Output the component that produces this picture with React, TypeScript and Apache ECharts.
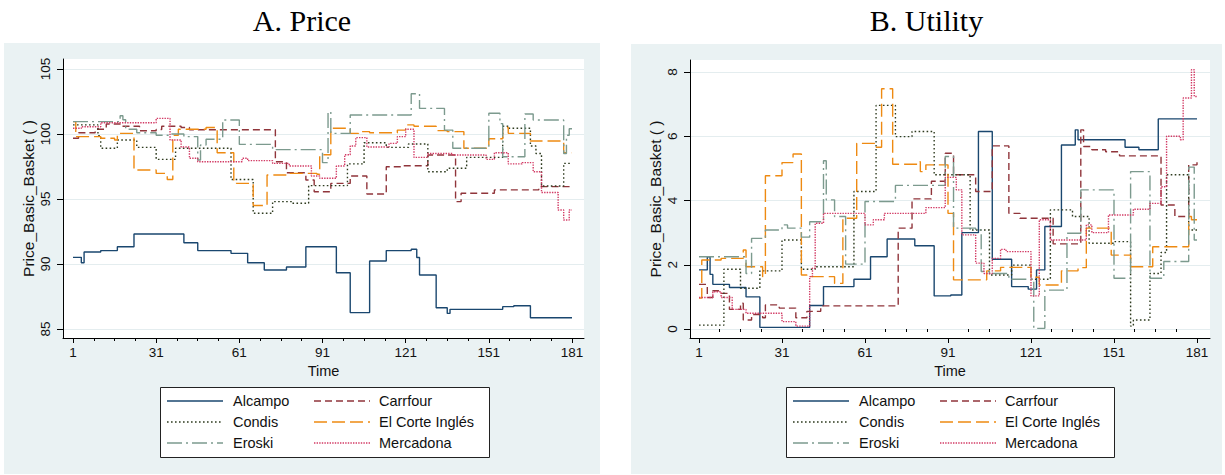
import { useEffect, useRef } from "react";
import * as echarts from "echarts";

// ---------- categories & ticks ----------
const stores = ["Alcampo", "Carrfour", "Condis", "El Corte Inglés", "Eroski", "Mercadona"];
const xTickValues = [1, 31, 61, 91, 121, 151, 181];
const xMinorTickValues = [8.5, 16, 23.5, 38.5, 46, 53.5, 68.5, 76, 83.5, 98.5, 106, 113.5, 128.5, 136, 143.5, 158.5, 166, 173.5];
const priceTicks = [85, 90, 95, 100, 105];
const utilityTicks = [0, 2, 4, 6, 8];

// ---------- A. Price : [day, value] at each change ----------
const priceAlcampo = [[1,90.51],[4,90.1],[5,90.92],[11,91.03],[17,91.33],[23,92.31],[41,91.64],[46,91.03],[58,90.82],[64,90.1],[70,89.54],[78,89.77],[85,91.33],[96,89.33],[101,86.26],[108,90.23],[114,91.03],[123,91.13],[125,90.5],[126,89.15],[132,86.64],[136,86.2],[137,86.51],[156,86.72],[160,86.79],[166,85.87],[181,85.87]];
const priceCarrfour = [[1,99.67],[3,100.1],[9,100.36],[13,100.77],[18,100.6],[25,100.25],[31,100.35],[33,100.6],[40,100.5],[43,100.33],[74,97.87],[78,97.02],[85,96.46],[88,95.56],[94,96.2],[101,96.77],[107,95.38],[114,97.48],[120,97.56],[129,98.38],[139,94.8],[141,95.44],[153,95.7],[169,95.95],[181,95.95]];
const priceCondis = [[1,100.7],[10,99.87],[11,98.9],[17,99.54],[24,98.97],[31,98.05],[38,98.9],[58,96.5],[66,93.9],[73,94.8],[80,94.67],[86,96.03],[100,97.7],[106,99.33],[114,98.97],[122,99.23],[129,97.1],[136,97.36],[143,98.2],[156,100.6],[158,100.44],[166,99.08],[168,98.5],[170,96.0],[178,97.74],[181,97.74]];
const priceElCorte = [[1,100.95],[2,99.8],[11,99.67],[16,99.54],[17,100.05],[23,97.23],[31,96.97],[35,96.5],[37,99.9],[39,100.36],[49,100.5],[53,98.56],[59,96.33],[60,96.2],[66,94.5],[71,96.85],[79,96.97],[89,96.9],[90,98.4],[94,100.44],[101,100.05],[104,100.18],[108,100.1],[118,100.3],[121,100.7],[124,100.6],[132,100.26],[136,100.18],[142,98.9],[151,99.64],[156,100.5],[158,100.05],[166,99.46],[178,98.56],[181,98.56]];
const priceEroski = [[1,100.95],[18,101.4],[19,101.1],[20,100.36],[24,100.1],[31,99.9],[36,100.0],[41,99.8],[46,98.0],[47,99.15],[49,99.6],[55,101.08],[61,99.2],[73,98.8],[91,97.8],[93,101.7],[94,100.05],[101,101.46],[123,103.1],[126,101.97],[135,100.3],[138,98.9],[151,101.6],[155,100.8],[156,98.25],[164,101.54],[167,101.08],[178,98.5],[179,99.9],[180,100.4],[181,100.4]];
const priceMercadona = [[1,100.44],[4,100.56],[11,100.87],[31,101.2],[36,99.54],[40,99.0],[43,98.13],[46,97.87],[62,98.13],[64,97.95],[73,97.74],[79,97.54],[87,96.77],[90,96.6],[96,97.54],[99,98.4],[101,99.08],[103,99.72],[107,99.0],[115,99.28],[118,99.8],[121,100.36],[124,98.2],[129,98.5],[138,98.38],[150,98.05],[153,98.56],[158,97.7],[163,97.8],[167,97.1],[170,95.5],[176,94.15],[178,93.38],[180,94.15],[181,94.15]];

// ---------- B. Utility ----------
const utilAlcampo = [[1,1.84],[4,2.25],[5,1.7],[6,1.39],[12,1.29],[18,1.0],[23,0.05],[41,0.73],[46,1.32],[57,1.55],[63,2.25],[69,2.8],[79,2.59],[86,1.03],[92,1.06],[96,3.0],[102,6.15],[107,2.17],[114,1.32],[120,1.24],[123,1.84],[126,3.19],[132,5.73],[137,6.2],[138,5.89],[155,5.66],[160,5.58],[167,6.54],[181,6.54]];
const utilCarrfour = [[1,1.39],[4,0.98],[6,1.19],[9,1.11],[12,0.61],[16,0.8],[17,0.28],[20,0.45],[24,0.35],[25,0.75],[30,0.65],[36,0.35],[40,0.55],[45,0.72],[73,3.14],[78,4.05],[85,4.6],[90,5.47],[93,4.8],[101,4.28],[107,5.7],[113,3.6],[117,3.45],[129,2.65],[139,6.2],[140,5.68],[143,5.58],[148,5.52],[153,5.39],[168,3.86],[173,3.5],[178,5.11],[181,5.21]];
const utilCondis = [[1,0.12],[10,1.86],[16,1.27],[23,1.81],[31,2.77],[38,1.86],[43,1.94],[57,4.28],[65,6.96],[72,5.99],[78,6.15],[86,4.8],[99,3.08],[106,1.68],[114,1.99],[121,1.55],[128,3.71],[136,3.5],[142,2.67],[151,2.72],[157,0.09],[158,0.28],[164,1.73],[168,2.38],[170,4.8],[178,3.08],[181,3.08]];
const utilElCorte = [[1,0.96],[2,2.15],[9,2.2],[17,2.46],[18,1.94],[24,1.63],[25,4.77],[31,5.18],[35,5.45],[38,1.68],[40,1.63],[50,1.42],[53,3.45],[58,5.78],[65,5.66],[67,7.48],[71,5.13],[80,5.21],[81,4.9],[83,5.11],[91,3.6],[93,1.53],[105,1.81],[110,1.92],[121,1.61],[124,1.37],[132,1.81],[138,1.91],[141,3.14],[150,2.3],[157,1.94],[165,2.56],[178,3.5],[179,3.4],[181,3.4]];
const utilEroski = [[1,2.25],[18,1.73],[20,2.82],[25,3.08],[31,3.24],[33,3.14],[38,2.86],[41,3.34],[46,5.24],[47,4.02],[50,3.5],[54,2.02],[61,3.97],[72,4.47],[90,5.37],[93,3.14],[101,3.08],[103,1.79],[106,1.73],[113,1.55],[122,0.02],[126,1.21],[134,2.98],[139,4.33],[151,1.58],[157,4.9],[164,1.58],[169,2.1],[178,5.04],[180,2.77],[181,2.77]];
const utilMercadona = [[1,0.98],[6,1.16],[9,0.98],[13,0.61],[18,0.49],[31,0.23],[36,0.09],[41,1.63],[42,1.89],[43,3.29],[46,3.6],[61,3.24],[64,3.4],[68,3.6],[83,3.78],[90,4.72],[94,4.33],[96,2.93],[101,2.05],[104,1.73],[107,2.2],[110,2.48],[112,2.41],[121,1.03],[124,3.4],[128,2.77],[141,3.24],[143,3.0],[149,3.55],[158,3.73],[164,3.91],[168,4.43],[170,6.0],[175,5.89],[176,7.19],[179,8.07],[180,7.24],[181,7.24]];

const priceSeries = [priceAlcampo, priceCarrfour, priceCondis, priceElCorte, priceEroski, priceMercadona];
const utilSeries = [utilAlcampo, utilCarrfour, utilCondis, utilElCorte, utilEroski, utilMercadona];

// ---------- styles ----------
const lineStyles: any[] = [
  { color: "#1a476f", type: "solid" },
  { color: "#90353b", type: [7, 4] },
  { color: "#2e3b1f", type: [1.6, 2.4] },
  { color: "#ee8a12", type: [13, 5] },
  { color: "#7c9a8e", type: [15, 4, 2, 4] },
  { color: "#d23a64", type: [1.4, 1.2] },
];

const FONT = '"Liberation Sans", Arial, Helvetica, sans-serif';
const SERIF = '"Liberation Serif", "Times New Roman", serif';
const PANEL_BG = "#eaf2f3";
const GRID_LINE = "#e4edef";

const panels = [
  { title: "A. Price", bg: [4, 43, 596, 431], plot: [63, 59, 521, 279], xMin: -2.607, xMax: 185.33, yMin: 84.308, yMax: 105.769, yTicks: priceTicks, data: priceSeries, legend: [160, 387, 329, 70], dx: 0 },
  { title: "B. Utility", bg: [631, 44, 591, 430], plot: [690, 60, 520, 278], xMin: -2.253, xMax: 185.7, yMin: -0.28, yMax: 8.374, yTicks: utilityTicks, data: utilSeries, legend: [786, 387, 328, 70], dx: 626 },
];

export default function App() {
  const ref = useRef<HTMLDivElement>(null);
  useEffect(() => {
    const chart = echarts.init(ref.current!, null, { renderer: "svg" });
    const grid: any[] = [];
    const xAxis: any[] = [];
    const yAxis: any[] = [];
    const series: any[] = [];
    const graphic: any[] = [];

    panels.forEach((p, pi) => {
      const [pl, pt, pw, ph] = p.plot;
      grid.push({ left: pl, top: pt, width: pw, height: ph, containLabel: false });
      xAxis.push({
        type: "value", gridIndex: pi, min: p.xMin, max: p.xMax, position: "bottom",
        axisLine: { show: true, onZero: false, lineStyle: { color: "#000", width: 1 } },
        axisTick: { show: true, length: 5, customValues: xTickValues, lineStyle: { color: "#000" } },
        axisLabel: { show: true, customValues: xTickValues, margin: 7, fontSize: 13.5, fontFamily: FONT, color: "#111" },
        splitLine: { show: false },
        name: "Time", nameLocation: "middle", nameGap: 24,
        nameTextStyle: { fontSize: 14.5, fontFamily: FONT, color: "#111" },
      });
      xAxis.push({
        type: "value", gridIndex: pi, min: p.xMin, max: p.xMax, position: "bottom",
        axisLine: { show: false },
        axisTick: { show: true, length: 3, customValues: xMinorTickValues, lineStyle: { color: "#000" } },
        axisLabel: { show: false },
        splitLine: { show: false },
      });
      yAxis.push({
        type: "value", gridIndex: pi, min: p.yMin, max: p.yMax, position: "left",
        axisLine: { show: true, onZero: false, lineStyle: { color: "#000", width: 1 } },
        axisTick: { show: true, length: 6, customValues: p.yTicks, lineStyle: { color: "#000" } },
        axisLabel: { show: true, customValues: p.yTicks, rotate: 90, margin: 11, fontSize: 13.5, fontFamily: FONT, color: "#111" },
        splitLine: { show: true, lineStyle: { color: GRID_LINE, width: 1 } },
        name: "Price_Basic_Basket ( )", nameLocation: "middle", nameGap: 27, nameRotate: 90,
        nameTextStyle: { fontSize: 15.5, fontFamily: FONT, color: "#111" },
      });
      p.data.forEach((d, si) => {
        series.push({
          type: "line", name: stores[si], xAxisIndex: pi * 2, yAxisIndex: pi, data: d,
          step: "end", showSymbol: false, symbol: "none", clip: true,
          lineStyle: { color: lineStyles[si].color, type: lineStyles[si].type, width: 1.4 },
          emphasis: { disabled: true },
        });
      });

      // backgrounds
      const [bx, by, bw, bh] = p.bg;
      graphic.push({ type: "rect", z: -20, silent: true, shape: { x: bx, y: by, width: bw, height: bh }, style: { fill: PANEL_BG } });
      graphic.push({ type: "rect", z: -19, silent: true, shape: { x: pl, y: pt, width: pw, height: ph }, style: { fill: "#fff" } });
      // title
      graphic.push({ type: "text", z: 5, x: bx + bw / 2, y: 20, style: { text: p.title, font: `30px ${SERIF}`, fill: "#000", textAlign: "center", textVerticalAlign: "middle" } });
      // legend box
      const [lx, ly, lw, lh] = p.legend;
      graphic.push({ type: "rect", z: 5, shape: { x: lx + 0.5, y: ly + 0.5, width: lw, height: lh }, style: { fill: "#fff", stroke: "#222", lineWidth: 1 } });
      const rowsY = [401, 422, 443];
      const colLineX = [167, 314];
      const colTextX = [233, 379];
      stores.forEach((s, si) => {
        const row = Math.floor(si / 2);
        const col = si % 2;
        const x1 = colLineX[col] + p.dx;
        graphic.push({ type: "line", z: 6, shape: { x1, y1: rowsY[row], x2: x1 + 56, y2: rowsY[row] }, style: { stroke: lineStyles[si].color, lineWidth: 1.3, lineDash: lineStyles[si].type === "solid" ? null : lineStyles[si].type } });
        graphic.push({ type: "text", z: 6, x: colTextX[col] + p.dx, y: rowsY[row], style: { text: s, font: `14.5px ${FONT}`, fill: "#111", textAlign: "left", textVerticalAlign: "middle" } });
      });
    });

    chart.setOption({
      animation: false,
      backgroundColor: "#fff",
      grid, xAxis, yAxis, series, graphic,
      tooltip: { show: false },
    });
    return () => chart.dispose();
  }, []);
  return <div ref={ref} style={{ position: "absolute", left: 0, top: 0, width: 1225, height: 475, background: "#fff" }} />;
}
